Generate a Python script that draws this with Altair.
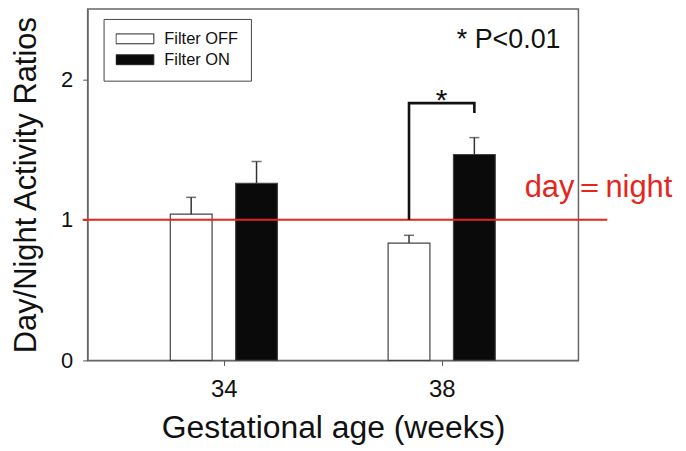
import altair as alt
import pandas as pd

# ---- data ----
ages = [34, 34, 38, 38]
filters = ["Filter OFF", "Filter ON", "Filter OFF", "Filter ON"]
ratios = [1.04, 1.26, 0.835, 1.465]
upper = [1.16, 1.415, 0.89, 1.585]

bracket_age = [38, 38, 38, 38]
bracket_filters = ["Filter OFF", "Filter OFF", "Filter ON", "Filter ON"]
bracket_y = [1.0, 1.83, 1.83, 1.76]
bracket_order = [0, 1, 2, 3]

reference_level = [1.0]
x_ticks = [34, 38]
y_ticks = [0, 1, 2]
star_label = ["*"]
p_label = ["* P<0.01"]
line_label = ["day\uff1dnight"]

FONT = "Liberation Sans"
TXT = "#111111"
RED = "#e4261d"

df = pd.DataFrame({"age": ages, "filter": filters, "ratio": ratios, "upper": upper})
bdf = pd.DataFrame({"age": bracket_age, "filter": bracket_filters,
                    "y": bracket_y, "order": bracket_order})

offset_expr = "datum.age + (datum.filter == 'Filter OFF' ? -0.6 : 0.6)"

x_scale = alt.Scale(domain=[31.59, 40.42], nice=False, zero=False)
y_scale = alt.Scale(domain=[0, 2.5], nice=False)

x_axis = alt.Axis(values=x_ticks, format="d", title="Gestational age (weeks)",
                  grid=False, labelFont=FONT, labelFontSize=24, labelColor=TXT,
                  titleFont=FONT, titleFontSize=32, titleFontWeight="normal",
                  titleColor=TXT, tickSize=5, tickColor="#555", domainColor="#666",
                  labelPadding=12, titlePadding=11)
y_axis = alt.Axis(values=y_ticks, format="d", title="Day/Night Activity Ratios",
                  grid=False, labelFont=FONT, labelFontSize=22, labelColor=TXT,
                  titleFont=FONT, titleFontSize=31, titleFontWeight="normal",
                  titleColor=TXT, tickSize=5, tickColor="#555", domainColor="#666",
                  labelPadding=10, titlePadding=18)


def X(field):
    return alt.X(field, scale=x_scale, axis=x_axis)


def Y(field):
    return alt.Y(field, scale=y_scale, axis=y_axis)


base = alt.Chart(df).transform_calculate(pos=offset_expr)

bars = base.mark_bar(size=42, stroke="#444", strokeWidth=1.2).encode(
    x=X("pos:Q"),
    y=Y("ratio:Q"),
    y2=alt.datum(0),
    fill=alt.Fill(
        "filter:N",
        scale=alt.Scale(domain=["Filter OFF", "Filter ON"], range=["#ffffff", "#0a0a0a"]),
        legend=alt.Legend(
            title=None, orient="none", legendX=16, legendY=10,
            symbolType="M-1,-0.26H1V0.26H-1Z", symbolSize=1444, clipHeight=16,
            rowPadding=4, padding=12, labelFont=FONT, labelFontSize=16.5,
            labelColor=TXT, labelOffset=10, strokeColor="#444",
            symbolStrokeColor="#222", symbolStrokeWidth=1, symbolOpacity=1,
        ),
    ),
)

err = base.mark_rule(color="#333", strokeWidth=1.5).encode(
    x=X("pos:Q"), y=Y("ratio:Q"), y2="upper:Q"
)
caps = base.mark_tick(orient="horizontal", size=10, thickness=1.5, color="#333").encode(
    x=X("pos:Q"), y=Y("upper:Q")
)

red_line = alt.Chart(pd.DataFrame({"level": reference_level})).mark_rule(
    color=RED, strokeWidth=2
).encode(y=Y("level:Q"), x=alt.value(-5), x2=alt.value(522))

bracket = alt.Chart(bdf).transform_calculate(pos=offset_expr).mark_line(
    color="#111", strokeWidth=2.6, strokeJoin="miter", strokeCap="butt"
).encode(x=X("pos:Q"), y=Y("y:Q"), order="order:Q")

star = alt.Chart(pd.DataFrame({"age": [bracket_age[0]], "y": [bracket_y[1]], "t": star_label})).mark_text(
    font=FONT, fontSize=30, dy=7, color="#111", baseline="alphabetic"
).encode(x=X("age:Q"), y=Y("y:Q"), text="t:N")

p_text = alt.Chart(pd.DataFrame({"t": p_label})).mark_text(
    font=FONT, fontSize=27, align="right", baseline="alphabetic", color="#111"
).encode(x=alt.value(475), y=alt.value(39), text="t:N")

day_text = alt.Chart(pd.DataFrame({"t": line_label})).mark_text(
    font=FONT, fontSize=31, align="left", baseline="alphabetic", color=RED
).encode(x=alt.value(439), y=alt.value(189), text="t:N")

chart = alt.layer(bars, err, caps, red_line, bracket, star, p_text, day_text).properties(
    width=493, height=353,
    padding={"left": 80, "top": 0, "right": 100, "bottom": 88},
    autosize=alt.AutoSizeParams(type="none"),
).configure_view(stroke="#666", strokeWidth=1.5)

chart.save("out.html", embed_options={"renderer": "svg", "actions": False})
